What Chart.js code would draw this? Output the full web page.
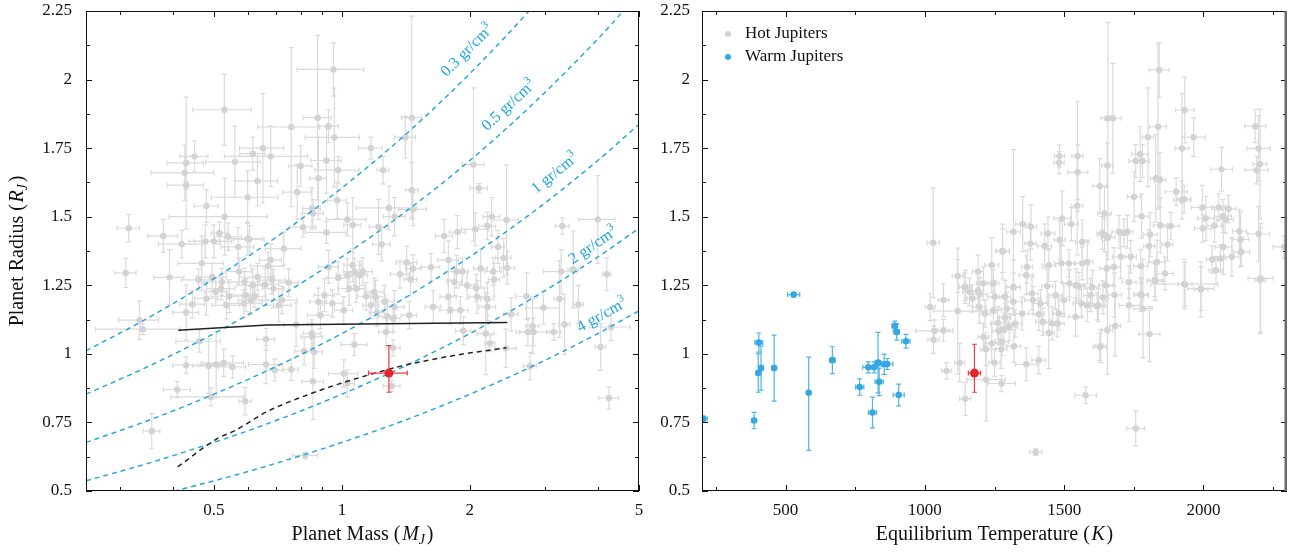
<!DOCTYPE html>
<html>
<head>
<meta charset="utf-8">
<script src="https://cdn.jsdelivr.net/npm/chart.js@4.4.0/dist/chart.umd.min.js"></script>
<style>
  body { margin: 0; background: #fff; }
  #wrap { position: relative; width: 1300px; height: 552px; }
  canvas { position: absolute; top: 0; }
</style>
</head>
<body>
<div id="wrap">
  <canvas id="massChart" width="650" height="552" style="left:0"></canvas>
  <canvas id="tempChart" width="650" height="552" style="left:650px"></canvas>
</div>
<script>
// ticks
const massTicks = [0.5, 1, 2, 5];
const massMinorTicks = [0.3, 0.4, 0.6, 0.7, 0.8, 0.9, 3, 4];
const radiusTicks = [0.5, 0.75, 1, 1.25, 1.5, 1.75, 2, 2.25];
const radiusMinorTicks = [0.625, 0.875, 1.125, 1.375, 1.625, 1.875, 2.125];
const tempTicks = [500, 1000, 1500, 2000];
const tempMinorTicks = [250, 750, 1250, 1750, 2250];

// hot jupiters, mass vs radius: [mass, radius, massErr, radiusErr]
const hotMassRadius = [
  [0.955, 2.037, 0.17, 0.097], [0.529, 1.89, 0.083, 0.13], [0.76, 1.827, 0.126, 0.29], [0.877, 1.861, 0.067, 0.3],
  [0.93, 1.83, 0.05, 0.06], [0.96, 1.789, 0.14, 0.18], [0.652, 1.75, 0.078, 0.2], [0.617, 1.73, 0.042, 0.06],
  [0.68, 1.72, 0.151, 0.11], [0.45, 1.72, 0.034, 0.056], [0.43, 1.696, 0.042, 0.24], [0.427, 1.66, 0.072, 0.1],
  [0.56, 1.7, 0.082, 0.13], [0.43, 1.615, 0.042, 0.015], [0.633, 1.63, 0.072, 0.09], [0.6, 1.571, 0.107, 0.095],
  [0.8, 1.685, 0.05, 0.074], [0.785, 1.59, 0.06, 0.1], [0.88, 1.64, 0.04, 0.15], [0.92, 1.705, 0.075, 0.12],
  [0.98, 1.67, 0.117, 0.05], [0.975, 1.56, 0.05, 0.067], [0.48, 1.539, 0.031, 0.06], [0.53, 1.5, 0.138, 0.14],
  [0.315, 1.458, 0.019, 0.05], [0.38, 1.43, 0.031, 0.06], [0.515, 1.44, 0.022, 0.04], [0.54, 1.427, 0.04, 0.05],
  [0.6, 1.42, 0.05, 0.06], [0.81, 1.462, 0.058, 0.036], [0.85, 1.53, 0.04, 0.076], [0.855, 1.512, 0.05, 0.05],
  [1.03, 1.49, 0.11, 0.06], [1.06, 1.47, 0.05, 0.1], [0.92, 1.443, 0.1, 0.04],
  [1.46, 1.861, 0.08, 0.37], [1.41, 1.79, 0.08, 0.076], [1.17, 1.75, 0.075, 0.04], [1.25, 1.67, 0.04, 0.05],
  [1.46, 1.597, 0.05, 0.1], [1.29, 1.532, 0.21, 0.08], [1.33, 1.5, 0.08, 0.07], [1.47, 1.527, 0.11, 0.06],
  [1.22, 1.463, 0.06, 0.1], [2.04, 1.69, 0.12, 0.28], [2.1, 1.604, 0.1, 0.017], [2.25, 1.5, 0.1, 0.07],
  [2.44, 1.488, 0.16, 0.2], [2.2, 1.466, 0.1, 0.05], [2.06, 1.454, 0.15, 0.06], [1.87, 1.444, 0.08, 0.06],
  [3.3, 1.466, 0.125, 0.03], [4.0, 1.49, 0.39, 0.16], [1.74, 1.43, 0.08, 0.06],
  [0.31, 1.295, 0.018, 0.053], [0.393, 1.279, 0.032, 0.1], [0.334, 1.123, 0.036, 0.07], [0.34, 1.09, 0.077, 0.02],
  [0.42, 1.4, 0.05, 0.05], [0.43, 1.151, 0.03, 0.1], [0.445, 1.181, 0.03, 0.05], [0.468, 1.33, 0.058, 0.1],
  [0.48, 1.202, 0.03, 0.06], [0.495, 1.28, 0.04, 0.05], [0.46, 1.27, 0.04, 0.04], [0.505, 1.226, 0.03, 0.05],
  [0.52, 1.238, 0.04, 0.04], [0.522, 1.262, 0.05, 0.05], [0.535, 1.177, 0.04, 0.05], [0.543, 1.21, 0.05, 0.06],
  [0.57, 1.39, 0.05, 0.07], [0.573, 1.3, 0.04, 0.05], [0.59, 1.262, 0.05, 0.05], [0.595, 1.214, 0.04, 0.06],
  [0.588, 1.184, 0.06, 0.05], [0.61, 1.196, 0.04, 0.05], [0.617, 1.25, 0.05, 0.06], [0.623, 1.21, 0.04, 0.04],
  [0.633, 1.28, 0.06, 0.05], [0.66, 1.253, 0.05, 0.06], [0.67, 1.32, 0.06, 0.05], [0.68, 1.342, 0.04, 0.06],
  [0.685, 1.269, 0.05, 0.05], [0.69, 1.238, 0.04, 0.07], [0.71, 1.177, 0.05, 0.06], [0.723, 1.196, 0.06, 0.05],
  [0.73, 1.384, 0.07, 0.06], [0.75, 1.26, 0.04, 0.05], [0.78, 1.107, 0.05, 0.08], [0.606, 1.418, 0.05, 0.05],
  [0.477, 1.41, 0.04, 0.06], [0.5, 1.41, 0.05, 0.06], [0.462, 1.046, 0.055, 0.04], [0.43, 0.959, 0.03, 0.03],
  [0.486, 0.956, 0.04, 0.1], [0.506, 0.961, 0.04, 0.12], [0.527, 0.967, 0.06, 0.05], [0.553, 0.952, 0.04, 0.04],
  [0.41, 0.87, 0.03, 0.03], [0.492, 0.843, 0.096, 0.033], [0.592, 0.827, 0.02, 0.05], [0.357, 0.718, 0.016, 0.064],
  [0.663, 1.053, 0.032, 0.04], [0.663, 0.961, 0.06, 0.07], [0.695, 0.941, 0.03, 0.04], [0.76, 0.943, 0.03, 0.04],
  [0.815, 1.01, 0.04, 0.05], [0.85, 1.074, 0.04, 0.05], [0.85, 1.062, 0.05, 0.05], [0.86, 1.007, 0.04, 0.06],
  [0.855, 0.9, 0.05, 0.14], [0.89, 1.141, 0.06, 0.05], [0.91, 1.214, 0.05, 0.06], [0.95, 1.184, 0.05, 0.05],
  [0.88, 1.19, 0.04, 0.05], [0.98, 1.277, 0.06, 0.06], [1.01, 0.928, 0.08, 0.05], [1.03, 0.892, 0.04, 0.05],
  [1.07, 1.034, 0.075, 0.04], [1.01, 1.159, 0.05, 0.05], [1.03, 1.287, 0.06, 0.06], [0.82, 0.63, 0.056, 0.012],
  [1.06, 1.323, 0.05, 0.06], [1.07, 1.3, 0.06, 0.05], [1.1, 1.287, 0.05, 0.05], [1.04, 1.238, 0.06, 0.06],
  [1.08, 1.238, 0.05, 0.05], [0.93, 1.317, 0.05, 0.06],
  [1.24, 1.399, 0.06, 0.06], [1.12, 1.3, 0.06, 0.05], [1.42, 1.333, 0.08, 0.06], [1.47, 1.311, 0.06, 0.05],
  [1.37, 1.29, 0.07, 0.05], [1.45, 1.271, 0.05, 0.06], [1.62, 1.316, 0.08, 0.05], [1.78, 1.342, 0.1, 0.07],
  [1.86, 1.3, 0.08, 0.06], [1.92, 1.3, 0.06, 0.05], [1.84, 1.262, 0.07, 0.05], [1.97, 1.25, 0.08, 0.05],
  [2.07, 1.24, 0.1, 0.05], [2.12, 1.311, 0.08, 0.07], [2.27, 1.3, 0.1, 0.05], [2.28, 1.271, 0.07, 0.06],
  [2.33, 1.39, 0.08, 0.06], [2.4, 1.35, 0.1, 0.07], [2.45, 1.314, 0.1, 0.06], [1.19, 1.226, 0.06, 0.05],
  [1.14, 1.21, 0.05, 0.05], [1.2, 1.208, 0.07, 0.06], [1.17, 1.177, 0.05, 0.05], [1.26, 1.19, 0.06, 0.06],
  [1.21, 1.151, 0.05, 0.05], [1.28, 1.137, 0.06, 0.06], [1.33, 1.171, 0.07, 0.06], [1.32, 1.129, 0.05, 0.05],
  [1.44, 1.141, 0.06, 0.05], [1.78, 1.208, 0.08, 0.06], [1.64, 1.171, 0.07, 0.06], [1.8, 1.159, 0.1, 0.05],
  [1.9, 1.159, 0.08, 0.05], [2.08, 1.208, 0.09, 0.06], [2.2, 1.2, 0.08, 0.06], [2.2, 1.171, 0.1, 0.05],
  [2.18, 1.074, 0.1, 0.15], [2.23, 1.038, 0.06, 0.03], [1.93, 1.084, 0.08, 0.05], [2.5, 1.144, 0.1, 0.06],
  [2.43, 1.02, 0.14, 0.07], [1.32, 1.022, 0.05, 0.03], [1.27, 1.08, 0.05, 0.05], [1.31, 0.883, 0.06, 0.02],
  [2.72, 1.21, 0.16, 0.085], [2.81, 1.102, 0.1, 0.1], [2.74, 1.08, 0.12, 0.05], [2.82, 1.08, 0.25, 0.05],
  [2.98, 1.168, 0.27, 0.06], [3.15, 1.08, 0.12, 0.03], [3.25, 1.2, 0.1, 0.14], [3.28, 1.3, 0.3, 0.08],
  [3.5, 1.308, 0.1, 0.14], [3.34, 1.107, 0.1, 0.11], [3.6, 1.18, 0.1, 0.07], [4.2, 1.29, 0.1, 0.06],
  [4.06, 1.025, 0.12, 0.085], [4.3, 1.098, 0.47, 0.05], [4.25, 0.839, 0.23, 0.04], [2.77, 0.955, 0.1, 0.05]
];

// hot jupiters, equilibrium temperature vs radius: [temp, radius, tempErr, radiusErr]
const hotTempRadius = [
  [1030, 1.405, 22, 0.2], [1841, 2.035, 36, 0.1], [1933, 1.889, 33, 0.12], [1965, 1.79, 42, 0.07],
  [1923, 1.749, 25, 0.2], [1837, 1.828, 30, 0.3], [1801, 1.79, 20, 0.18], [1657, 1.859, 25, 0.35],
  [1675, 1.859, 30, 0.2], [1655, 1.688, 20, 0.08], [1483, 1.721, 18, 0.04], [1482, 1.697, 18, 0.04],
  [1548, 1.721, 20, 0.2], [1549, 1.662, 36, 0.1], [1547, 1.54, 20, 0.18], [1773, 1.728, 30, 0.1],
  [1757, 1.703, 25, 0.06], [1781, 1.703, 25, 0.06], [1751, 1.573, 24, 0.09], [1829, 1.64, 20, 0.16],
  [1844, 1.634, 20, 0.1], [1902, 1.591, 39, 0.05], [1923, 1.561, 30, 0.07], [1778, 1.502, 25, 0.08],
  [2186, 1.83, 38, 0.06], [2198, 1.749, 42, 0.12], [2191, 1.67, 42, 0.05], [2203, 1.692, 25, 0.2],
  [2065, 1.673, 39, 0.08], [1996, 1.534, 40, 0.08], [2009, 1.494, 30, 0.08], [1998, 1.457, 30, 0.05],
  [2040, 1.467, 25, 0.06], [2055, 1.534, 25, 0.05], [2070, 1.502, 30, 0.06], [2078, 1.49, 30, 0.05],
  [2090, 1.528, 25, 0.05], [2072, 1.39, 30, 0.1], [2129, 1.447, 25, 0.08], [2133, 1.417, 30, 0.1],
  [2136, 1.372, 30, 0.05], [2198, 1.437, 39, 0.1], [2205, 1.275, 45, 0.2], [2031, 1.344, 20, 0.05],
  [2061, 1.348, 20, 0.05], [2045, 1.305, 25, 0.05], [2102, 1.354, 25, 0.07], [1931, 1.564, 25, 0.05],
  [1883, 1.466, 30, 0.05], [1845, 1.469, 25, 0.1], [1871, 1.399, 20, 0.06], [1809, 1.435, 25, 0.08],
  [1805, 1.393, 20, 0.06], [1833, 1.335, 30, 0.08], [1862, 1.293, 30, 0.06], [1826, 1.269, 25, 0.06],
  [1934, 1.254, 25, 0.08], [1991, 1.238, 48, 0.08], [1775, 1.217, 25, 0.06], [1645, 1.512, 25, 0.1],
  [1637, 1.441, 20, 0.06], [1645, 1.433, 25, 0.06], [1657, 1.424, 25, 0.08], [1697, 1.445, 25, 0.06],
  [1715, 1.441, 20, 0.05], [1727, 1.445, 20, 0.06], [1628, 1.612, 25, 0.1], [1493, 1.494, 30, 0.1],
  [1526, 1.473, 25, 0.06], [1565, 1.408, 25, 0.08], [1484, 1.415, 20, 0.07], [1442, 1.439, 25, 0.06],
  [1381, 1.463, 20, 0.08], [1351, 1.473, 25, 0.1], [1379, 1.402, 20, 0.06], [1318, 1.445, 25, 0.3],
  [1279, 1.376, 25, 0.08], [1240, 1.323, 25, 0.1], [1118, 1.284, 20, 0.06], [1191, 1.3, 20, 0.06],
  [1145, 1.244, 25, 0.06], [1191, 1.23, 20, 0.05], [1318, 1.242, 25, 0.1], [1364, 1.287, 25, 0.07],
  [1367, 1.317, 20, 0.06], [1430, 1.393, 25, 0.08], [1445, 1.323, 25, 0.06], [1490, 1.33, 25, 0.07],
  [1517, 1.33, 20, 0.05], [1565, 1.33, 25, 0.06], [1583, 1.335, 20, 0.08], [1653, 1.311, 25, 0.06],
  [1679, 1.317, 25, 0.07], [1703, 1.354, 30, 0.08], [1739, 1.354, 20, 0.06], [1775, 1.32, 25, 0.06],
  [1543, 1.25, 25, 0.06], [1279, 1.373, 25, 0.1], [2290, 1.39, 40, 0.04],
  [1019, 1.171, 18, 0.05], [1067, 1.196, 20, 0.06], [1118, 1.156, 87, 0.23], [1034, 1.084, 67, 0.04],
  [1067, 1.086, 20, 0.04], [1031, 1.052, 20, 0.05], [1078, 0.938, 18, 0.03], [1125, 0.968, 18, 0.07],
  [1145, 0.836, 20, 0.06], [1220, 0.906, 69, 0.15], [1275, 0.892, 50, 0.03], [1250, 0.968, 20, 0.05],
  [1210, 1.062, 20, 0.05], [1219, 1.017, 20, 0.06], [1240, 1.038, 25, 0.07], [1274, 1.017, 20, 0.07],
  [1276, 1.044, 25, 0.05], [1320, 1.028, 25, 0.06], [1364, 0.962, 39, 0.06], [1409, 0.977, 25, 0.05],
  [1445, 1.076, 20, 0.13], [1577, 0.849, 39, 0.03], [1398, 0.642, 22, 0.012], [1628, 1.025, 25, 0.05],
  [1195, 1.171, 25, 0.06], [1171, 1.202, 20, 0.05], [1160, 1.226, 25, 0.05], [1144, 1.244, 20, 0.05],
  [1210, 1.257, 25, 0.06], [1246, 1.159, 30, 0.05], [1262, 1.113, 25, 0.06], [1265, 1.084, 20, 0.05],
  [1284, 1.089, 25, 0.06], [1288, 1.133, 20, 0.05], [1294, 1.165, 25, 0.06], [1303, 1.098, 30, 0.05],
  [1324, 1.111, 25, 0.05], [1288, 1.208, 20, 0.06], [1318, 1.19, 30, 0.05], [1252, 1.208, 25, 0.06],
  [1246, 1.257, 20, 0.05], [1349, 1.147, 25, 0.06], [1388, 1.196, 30, 0.05], [1385, 1.22, 20, 0.06],
  [1415, 1.184, 25, 0.05], [1409, 1.145, 20, 0.06], [1423, 1.117, 25, 0.05], [1457, 1.111, 30, 0.06],
  [1475, 1.111, 25, 0.05], [1481, 1.147, 20, 0.06], [1469, 1.214, 25, 0.05], [1499, 1.196, 20, 0.06],
  [1541, 1.135, 25, 0.07], [1562, 1.184, 30, 0.05], [1583, 1.177, 25, 0.06], [1619, 1.174, 30, 0.05],
  [1595, 1.214, 25, 0.06], [1553, 1.247, 20, 0.05], [1601, 1.244, 25, 0.06], [1519, 1.257, 25, 0.05],
  [1439, 1.247, 20, 0.06], [1318, 1.244, 25, 0.05], [1216, 1.147, 20, 0.05], [1197, 1.217, 25, 0.06],
  [1931, 1.254, 120, 0.09], [1991, 1.235, 25, 0.1], [1827, 1.265, 30, 0.07], [1783, 1.165, 33, 0.18],
  [1778, 1.214, 25, 0.06], [1733, 1.177, 36, 0.06], [1681, 1.215, 25, 0.08], [1639, 1.206, 20, 0.06],
  [1623, 1.177, 20, 0.06], [1655, 1.086, 20, 0.16], [1683, 1.102, 20, 0.11], [1631, 1.028, 20, 0.06],
  [1806, 1.072, 38, 0.1], [1757, 0.728, 32, 0.064], [2204, 1.269, 20, 0.19], [1733, 1.262, 25, 0.06],
  [1650, 1.25, 25, 0.06]
];

// warm jupiters: [temp, radius, tempErr, radiusErr(low), radiusErr(high)]
const warmTempRadius = [
  [205, 0.763, 14, 0.01], [387, 0.757, 8, 0.03], [404, 1.041, 14, 0.035], [402, 0.93, 8, 0.07],
  [412, 0.948, 8, 0.08], [459, 0.948, 8, 0.12], [529, 1.216, 22, 0.008], [583, 0.858, 5, 0.21, 0.13],
  [668, 0.977, 10, 0.049], [766, 0.879, 15, 0.03], [797, 0.951, 20, 0.02], [812, 0.786, 15, 0.056],
  [818, 0.951, 15, 0.02], [832, 0.968, 10, 0.11], [836, 0.898, 15, 0.05], [854, 0.962, 15, 0.037],
  [865, 0.963, 20, 0.02], [892, 1.102, 10, 0.017], [899, 1.08, 10, 0.03], [906, 0.85, 20, 0.04],
  [932, 1.046, 15, 0.025]
];

// the target planet
const targetMassRadius = [1.29, 0.93, 0.135, 0.07, 0.10];
const targetTempRadius = [1178, 0.93, 22, 0.07, 0.105];

// iso-density curves (gr/cm^3), radius read at each mass
const densities = [0.3, 0.5, 1, 2, 4];
const densityMass = [0.25, 0.35, 0.5, 0.7, 1, 1.4, 2, 2.8, 4, 5];
const densityRadius = [
  [1.011, 1.131, 1.274, 1.425, 1.605, 1.795, 2.022, 2.262, 2.547, 2.744],
  [0.853, 0.954, 1.074, 1.202, 1.354, 1.514, 1.705, 1.908, 2.148, 2.314],
  [0.677, 0.757, 0.853, 0.954, 1.074, 1.202, 1.354, 1.514, 1.705, 1.837],
  [0.537, 0.601, 0.677, 0.757, 0.853, 0.954, 1.074, 1.202, 1.353, 1.458],
  [0.426, 0.477, 0.537, 0.601, 0.677, 0.757, 0.853, 0.954, 1.074, 1.157]
];

// model tracks
const solidTrackMass = [0.412, 0.668, 2.45];
const solidTrackRadius = [1.086, 1.105, 1.114];
const dashedTrackMass = [0.411, 0.509, 0.56, 0.666, 0.87, 1.02, 1.15, 1.41, 1.85, 2.44];
const dashedTrackRadius = [0.588, 0.691, 0.72, 0.789, 0.862, 0.898, 0.922, 0.959, 0.995, 1.022];

const SERIF = '"Liberation Serif", "Times New Roman", serif';
const GREY = '#d3d3d3';
const BLUE = '#35a8e1';
const RED = '#e8212b';
const LINE_BLUE = '#1ba4df';

// punti con barre d'errore
function toPoints(rows) {
  return rows.map(r => ({ x: r[0], y: r[1] }));
}
function toErrors(rows) {
  return rows.map(r => [r[2], r[2], r[3], r.length > 4 ? r[4] : r[3]]);
}

const errorBars = {
  id: 'errorBars',
  beforeDatasetDraw(chart, args) {
    const ds = chart.data.datasets[args.index];
    if (!ds.errors) return;
    const { ctx, chartArea: a, scales: { x, y } } = chart;
    ctx.save();
    ctx.beginPath();
    ctx.rect(a.left, a.top, a.right - a.left, a.bottom - a.top);
    ctx.clip();
    ctx.strokeStyle = ds.errorColor;
    ctx.lineWidth = 1.2;
    const c = 2.5;
    ds.data.forEach((p, i) => {
      const e = ds.errors[i];
      const px = x.getPixelForValue(p.x), py = y.getPixelForValue(p.y);
      const x0 = x.getPixelForValue(p.x - e[0]), x1 = x.getPixelForValue(p.x + e[1]);
      const y0 = y.getPixelForValue(p.y - e[2]), y1 = y.getPixelForValue(p.y + e[3]);
      ctx.beginPath();
      ctx.moveTo(x0, py); ctx.lineTo(x1, py);
      ctx.moveTo(x0, py - c); ctx.lineTo(x0, py + c);
      ctx.moveTo(x1, py - c); ctx.lineTo(x1, py + c);
      ctx.moveTo(px, y0); ctx.lineTo(px, y1);
      ctx.moveTo(px - c, y0); ctx.lineTo(px + c, y0);
      ctx.moveTo(px - c, y1); ctx.lineTo(px + c, y1);
      ctx.stroke();
    });
    ctx.restore();
  }
};

// testo con corsivo e pedici
function richText(ctx, parts, x, y, size) {
  const fonts = {
    r: size + 'px ' + SERIF,
    i: 'italic ' + size + 'px ' + SERIF,
    s: 'italic ' + Math.round(size * 0.7) + 'px ' + SERIF,
    u: Math.round(size * 0.7) + 'px ' + SERIF
  };
  const shift = { r: 0, i: 0, s: size * 0.25, u: -size * 0.35 };
  let w = 0;
  parts.forEach(p => { ctx.font = fonts[p[1]]; w += ctx.measureText(p[0]).width; });
  let cx = x - w / 2;
  ctx.textAlign = 'left';
  ctx.textBaseline = 'middle';
  parts.forEach(p => {
    ctx.font = fonts[p[1]];
    ctx.fillText(p[0], cx, y + shift[p[1]]);
    cx += ctx.measureText(p[0]).width;
  });
}

function makeFrame(cfg) {
  return {
    id: 'frame',
    afterDraw(chart) {
      const { ctx, chartArea: a, scales: { x, y } } = chart;
      ctx.save();
      ctx.strokeStyle = '#111';
      ctx.lineWidth = 1;
      const hTick = (v, len) => {
        const px = Math.round(x.getPixelForValue(v)) + 0.5;
        ctx.moveTo(px, a.bottom); ctx.lineTo(px, a.bottom - len);
        ctx.moveTo(px, a.top); ctx.lineTo(px, a.top + len);
      };
      const vTick = (v, len) => {
        const py = Math.round(y.getPixelForValue(v)) + 0.5;
        ctx.moveTo(a.left, py); ctx.lineTo(a.left + len, py);
        ctx.moveTo(a.right, py); ctx.lineTo(a.right - len, py);
      };
      ctx.beginPath();
      cfg.xMajor.forEach(v => hTick(v, 6));
      cfg.xMinor.forEach(v => hTick(v, 4));
      cfg.yMajor.forEach(v => vTick(v, 6));
      cfg.yMinor.forEach(v => vTick(v, 4));
      ctx.stroke();
      ctx.beginPath();
      ctx.moveTo(a.left + 0.5, a.bottom); ctx.lineTo(a.left + 0.5, a.top + 0.5);
      ctx.lineTo(a.right, a.top + 0.5);
      ctx.moveTo(a.left, a.bottom - 0.5); ctx.lineTo(a.right, a.bottom - 0.5);
      ctx.stroke();
      ctx.beginPath();
      ctx.strokeStyle = cfg.rightColor;
      ctx.lineWidth = cfg.rightWidth;
      ctx.moveTo(a.right - cfg.rightWidth / 2, a.top); ctx.lineTo(a.right - cfg.rightWidth / 2, a.bottom);
      ctx.stroke();

      ctx.fillStyle = '#111';
      richText(ctx, cfg.xTitle, (a.left + a.right) / 2, 535, 20);
      if (cfg.yTitle) {
        ctx.save();
        ctx.translate(18, (a.top + a.bottom) / 2);
        ctx.rotate(-Math.PI / 2);
        richText(ctx, cfg.yTitle, 0, 0, 20);
        ctx.restore();
      }
      if (cfg.legend) {
        cfg.legend.forEach((item, i) => {
          const ly = a.top + 23 + i * 23;
          ctx.beginPath();
          ctx.fillStyle = item.color;
          ctx.arc(a.left + 26, ly, 3, 0, Math.PI * 2);
          ctx.fill();
          ctx.fillStyle = '#111';
          ctx.font = '17px ' + SERIF;
          ctx.textAlign = 'left';
          ctx.textBaseline = 'middle';
          ctx.fillText(item.label, a.left + 43, ly);
        });
      }
      ctx.restore();
    }
  };
}

// etichette delle curve di densità: [massa, raggio, angolo]
const densityLabelAt = [[1.97, 2.105, 45], [2.47, 1.905, 43], [3.17, 1.658, 39], [3.9, 1.394, 34], [4.09, 1.14, 29]];
const densityLabels = {
  id: 'densityLabels',
  afterDatasetsDraw(chart) {
    const { ctx, scales: { x, y } } = chart;
    ctx.save();
    ctx.fillStyle = LINE_BLUE;
    densities.forEach((d, i) => {
      const at = densityLabelAt[i];
      ctx.save();
      ctx.translate(x.getPixelForValue(at[0]), y.getPixelForValue(at[1]));
      ctx.rotate(-at[2] * Math.PI / 180);
      richText(ctx, [[d + ' gr/cm', 'r'], ['3', 'u']], 0, 0, 16);
      ctx.restore();
    });
    ctx.restore();
  }
};

function scaleY(width, pad) {
  return {
    type: 'linear', min: 0.5, max: 2.25,
    grid: { display: false, drawTicks: false }, border: { display: false },
    afterBuildTicks: s => { s.ticks = radiusTicks.map(v => ({ value: v })); },
    afterFit: s => { s.width = width; s.paddingTop = 0; s.paddingBottom = 0; },
    ticks: { color: '#111', padding: pad, font: { family: SERIF, size: 17 }, callback: v => String(v) }
  };
}

function scaleX(type, min, max, tickValues) {
  return {
    type: type, min: min, max: max,
    grid: { display: false, drawTicks: false }, border: { display: false },
    afterBuildTicks: s => { s.ticks = tickValues.map(v => ({ value: v })); },
    afterFit: s => { s.height = 61; s.paddingLeft = 0; s.paddingRight = 0; },
    ticks: { color: '#111', padding: 9, maxRotation: 0, autoSkip: false,
             font: { family: SERIF, size: 17 }, callback: v => String(v) }
  };
}

const lineDefaults = { type: 'line', pointRadius: 0, fill: false, borderWidth: 1.5, cubicInterpolationMode: 'monotone' };

const massDatasets = [
  { type: 'scatter', data: toPoints(hotMassRadius), errors: toErrors(hotMassRadius), errorColor: '#dadada',
    pointRadius: 3.2, backgroundColor: GREY, borderWidth: 0, order: 4 },
  ...densities.map((d, k) => Object.assign({}, lineDefaults, {
    data: densityMass.map((m, i) => ({ x: m, y: densityRadius[k][i] })),
    borderColor: LINE_BLUE, borderDash: [5, 4], borderWidth: 1.4, order: 2
  })),
  Object.assign({}, lineDefaults, {
    data: solidTrackMass.map((m, i) => ({ x: m, y: solidTrackRadius[i] })),
    borderColor: '#222', tension: 0, cubicInterpolationMode: 'default', order: 1
  }),
  Object.assign({}, lineDefaults, {
    data: dashedTrackMass.map((m, i) => ({ x: m, y: dashedTrackRadius[i] })),
    borderColor: '#222', borderDash: [5, 4], order: 1
  }),
  { type: 'scatter', data: toPoints([targetMassRadius]), errors: toErrors([targetMassRadius]), errorColor: '#ee3a43',
    pointRadius: 4.5, backgroundColor: RED, borderWidth: 0, order: 0 }
];

new Chart(document.getElementById('massChart'), {
  type: 'scatter',
  data: { datasets: massDatasets },
  options: {
    responsive: false, animation: false, events: [],
    layout: { padding: { left: 0, top: 11, right: 11, bottom: 0 } },
    plugins: { legend: { display: false }, tooltip: { enabled: false } },
    scales: {
      x: scaleX('logarithmic', 0.25, 5, massTicks),
      y: scaleY(86, 14)
    }
  },
  plugins: [errorBars, densityLabels, makeFrame({
    xMajor: massTicks, xMinor: massMinorTicks, yMajor: radiusTicks, yMinor: radiusMinorTicks,
    rightColor: '#111', rightWidth: 1,
    xTitle: [['Planet Mass (\u200a', 'r'], ['M', 'i'], ['J', 's'], ['\u200a)', 'r']],
    yTitle: [['Planet Radius (\u200a', 'r'], ['R', 'i'], ['J', 's'], ['\u200a)', 'r']]
  })]
});

new Chart(document.getElementById('tempChart'), {
  type: 'scatter',
  data: {
    datasets: [
      { label: 'Hot Jupiters', data: toPoints(hotTempRadius), errors: toErrors(hotTempRadius), errorColor: '#dadada',
        pointRadius: 3.2, backgroundColor: GREY, borderWidth: 0, order: 3 },
      { label: 'Warm Jupiters', data: toPoints(warmTempRadius), errors: toErrors(warmTempRadius), errorColor: '#4fb3e6',
        pointRadius: 3.3, backgroundColor: BLUE, borderWidth: 0, order: 1 },
      { data: toPoints([targetTempRadius]), errors: toErrors([targetTempRadius]), errorColor: '#ee3a43',
        pointRadius: 4.5, backgroundColor: RED, borderWidth: 0, order: 0 }
    ]
  },
  options: {
    responsive: false, animation: false, events: [],
    layout: { padding: { left: 0, top: 11, right: 13, bottom: 0 } },
    plugins: { legend: { display: false }, tooltip: { enabled: false } },
    scales: {
      x: scaleX('linear', 200, 2300, tempTicks),
      y: scaleY(52, 12)
    }
  },
  plugins: [errorBars, makeFrame({
    xMajor: tempTicks, xMinor: tempMinorTicks, yMajor: radiusTicks, yMinor: radiusMinorTicks,
    rightColor: '#6a6a6a', rightWidth: 2.5,
    xTitle: [['Equilibrium Temperature (\u200a', 'r'], ['K', 'i'], ['\u200a)', 'r']],
    legend: [{ label: 'Hot Jupiters', color: GREY }, { label: 'Warm Jupiters', color: BLUE }]
  })]
});
</script>
</body>
</html>
